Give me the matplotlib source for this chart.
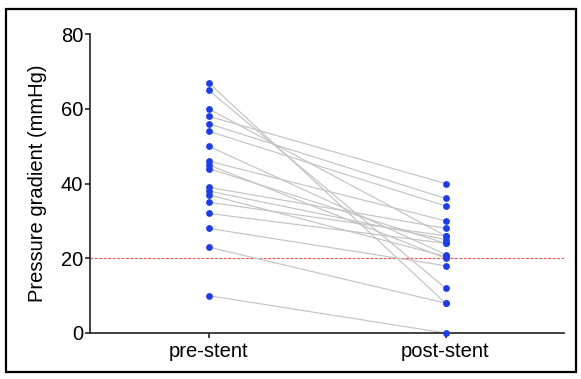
import matplotlib
matplotlib.use("Agg")
import matplotlib.pyplot as plt
from matplotlib.patches import Rectangle

categories = ["pre-stent", "post-stent"]
pre_stent = [67, 65, 60, 58, 56, 54, 50, 46, 45, 44, 39, 38, 37, 35, 32, 28, 23, 10]
post_stent = [8, 12, 26, 40, 36, 34, 21, 30, 20, 24, 28, 25, 20.5, 26, 24, 18, 8, 0]
y_ticks = [0, 20, 40, 60, 80]
threshold = 20

plt.rcParams['font.family'] = ['Liberation Sans', 'DejaVu Sans']

fig = plt.figure(figsize=(5.81, 3.79), dpi=100)
ax = fig.add_axes([90/581, 1-333/379, (564-90)/581, (333-34)/379])

x = [0, 1]
for a, b in zip(pre_stent, post_stent):
    ax.plot(x, [a, b], color="#c4c4c4", lw=0.85, zorder=2, solid_capstyle='butt')

ax.axhline(threshold, color="#ff4a4a", lw=0.8, ls=(0, (2.5, 1.5)), zorder=1)

ax.scatter([0]*len(pre_stent), pre_stent, s=24, color="#1a3cf5", zorder=3, clip_on=False, linewidths=0)
ax.scatter([1]*len(post_stent), post_stent, s=24, color="#1a3cf5", zorder=3, clip_on=False, linewidths=0)

ax.set_xlim(-0.5, 1.5)
ax.set_ylim(0, 80)
ax.set_yticks(y_ticks)
ax.set_xticks(x)
ax.set_xticklabels(categories)
ax.set_ylabel("Pressure gradient (mmHg)", fontsize=14.5, labelpad=10)

for side in ["top", "right"]:
    ax.spines[side].set_visible(False)
for side in ["left", "bottom"]:
    ax.spines[side].set_linewidth(1.2)
    ax.spines[side].set_color("#222222")

ax.tick_params(axis='both', labelsize=14.5, length=3.5, width=1.2, color="#222222", direction='out')
ax.tick_params(axis='y', pad=1.5)
ax.tick_params(axis='x', pad=3)

fig.patches.append(Rectangle((5.5/581, 1-372/379), (576-5.5)/581, (372-9)/379,
                             transform=fig.transFigure, fill=False, edgecolor='black', lw=1.6))

fig.savefig("out.png", dpi=100)
